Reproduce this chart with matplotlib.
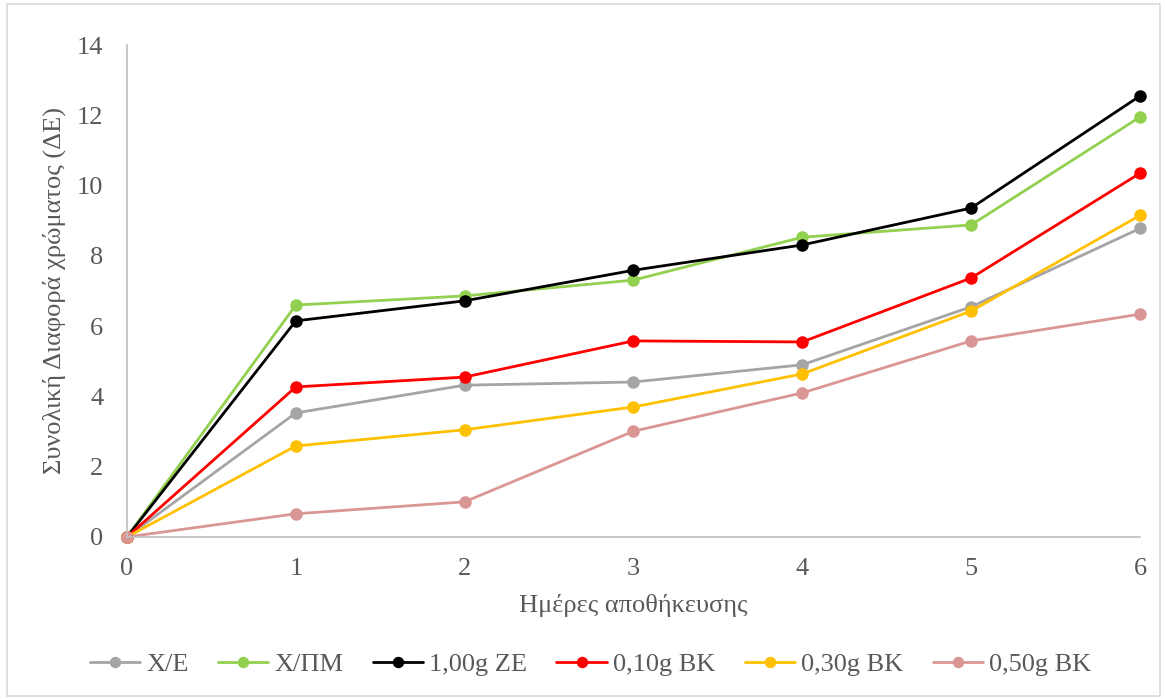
import matplotlib
matplotlib.use("Agg")
from matplotlib import pyplot as plt
from matplotlib.patches import Rectangle

plt.rcParams['font.family'] = ['Liberation Serif', 'DejaVu Serif']

days = [0, 1, 2, 3, 4, 5, 6]
x_e = [0, 3.53, 4.32, 4.41, 4.90, 6.55, 8.78]
x_pm = [0, 6.60, 6.86, 7.31, 8.53, 8.88, 11.95]
ze_100 = [0, 6.15, 6.72, 7.59, 8.31, 9.36, 12.55]
bk_010 = [0, 4.27, 4.55, 5.58, 5.55, 7.37, 10.35]
bk_030 = [0, 2.59, 3.05, 3.70, 4.64, 6.43, 9.15]
bk_050 = [0, 0.66, 1.00, 3.01, 4.10, 5.58, 6.34]

series = [
    ("Χ/Ε", x_e, "#A5A5A5"),
    ("Χ/ΠΜ", x_pm, "#92D050"),
    ("1,00g ZE", ze_100, "#000000"),
    ("0,10g BK", bk_010, "#FF0000"),
    ("0,30g BK", bk_030, "#FFC000"),
    ("0,50g BK", bk_050, "#DA9694"),
]

txt = "#595959"
fs = 19
fig = plt.figure(figsize=(11.65, 6.99), dpi=100)
ax = fig.add_axes([0.109, 0.2318, 0.8695, 0.7038])

for name, vals, col in series:
    ax.plot(days, vals, color=col, lw=2.0, marker="o", ms=8, label=name,
            clip_on=False, solid_capstyle="round")

ax.set_xlim(0, 6)
ax.set_ylim(0, 14)
ax.set_yticks(range(0, 15, 2))
ax.set_xticks(days)
for s in ["top", "right"]:
    ax.spines[s].set_visible(False)
for s in ["left", "bottom"]:
    ax.spines[s].set_color("#BFBFBF")
    ax.spines[s].set_linewidth(1.2)
ax.tick_params(length=0, labelsize=fs, labelcolor=txt)
ax.tick_params(axis="y", pad=17)
ax.tick_params(axis="x", pad=15)

ax.set_xlabel("Ημέρες αποθήκευσης", fontsize=fs, color=txt, labelpad=10)
ax.set_ylabel("Συνολική Διαφορά χρώματος (ΔΕ)", fontsize=fs, color=txt, labelpad=8)

fig.legend(loc="center", bbox_to_anchor=(0.507, 0.05), ncol=6, frameon=False,
           fontsize=fs, labelcolor=txt, handlelength=1.9, columnspacing=1.1,
           handletextpad=0.25, markerscale=0.9)

fig.patches.append(Rectangle((0.006, 0.004), 0.99, 0.99, transform=fig.transFigure,
                             fill=False, edgecolor="#D9D9D9", lw=1.2))

fig.savefig("out.png", dpi=100)
